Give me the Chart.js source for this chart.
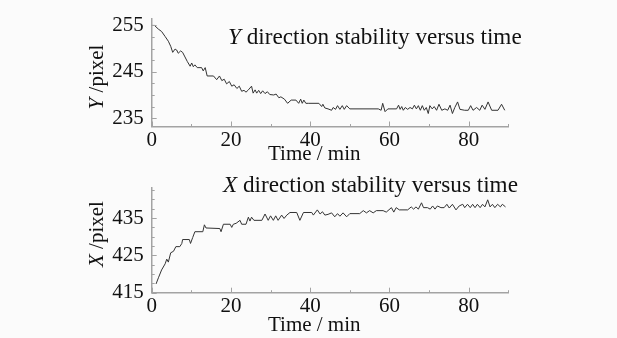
<!DOCTYPE html>
<html>
<head>
<meta charset="utf-8">
<script src="https://cdn.jsdelivr.net/npm/chart.js@4.4.1/dist/chart.umd.min.js"></script>
<style>
  body { margin: 0; background: #fbfbfb; width: 617px; height: 338px; overflow: hidden; position: relative; font-family: "Liberation Serif", serif; color: #111; }
  canvas { position: absolute; left: 0; }
  .title { position: absolute; font-size: 23.2px; line-height: 1; white-space: nowrap; }
  .ytitle { position: absolute; font-size: 21px; line-height: 1; white-space: nowrap; transform: translate(-50%, -50%) rotate(-90deg); }
</style>
</head>
<body>
<canvas id="chartY" width="617" height="169" style="top:0"></canvas>
<canvas id="chartX" width="617" height="169" style="top:169px"></canvas>
<div class="title" style="left:228px; top:24.5px"><i>Y</i> direction stability versus time</div>
<div class="title" style="left:223px; top:172.5px"><i>X</i> direction stability versus time</div>
<div class="ytitle" style="left:96px; top:77px"><i>Y</i> /pixel</div>
<div class="ytitle" style="left:96px; top:234px"><i>X</i> /pixel</div>
<script>
// time axis (min)
const xTicks = [0, 10, 20, 30, 40, 50, 60, 70, 80, 90];
const xLabels = [0, 20, 40, 60, 80];

// Y direction (top panel)
const yTimes = [0, 0.7, 1.7, 2.5, 3.4, 4.2, 4.8, 5.3, 5.9, 6.3, 6.7, 7.3, 7.8, 8.4, 9.0, 9.7, 10.1, 10.5, 10.9, 11.5,
  12.6, 13.0, 13.5, 14.0, 15.6, 16.4, 17.1, 17.7, 18.3, 18.9, 19.6, 20.2, 20.8, 21.5, 22.1, 22.7, 23.3, 23.8, 24.4, 25.2,
  25.6, 26.1, 26.5, 27.0, 27.5, 28.0, 28.6, 29.2, 29.8, 30.8, 31.4, 32.1, 32.6, 33.5, 34.3, 35.2, 36.4, 37.1, 37.6, 38.0,
  38.4, 38.9, 39.5, 42.2, 42.9, 43.2, 43.7, 44.5, 45.4, 45.8, 46.4, 46.9, 47.5, 48.1, 48.6, 49.2, 50.0, 57.2, 57.9, 58.3,
  58.9, 59.6, 61.8, 62.3, 62.7, 63.1, 63.5, 64.0, 64.6, 65.2, 65.8, 66.3, 66.8, 67.3, 67.8, 68.3, 68.8, 69.3, 69.8, 70.2,
  70.8, 71.3, 71.9, 72.5, 73.2, 74.0, 74.7, 75.3, 75.9, 76.5, 77.2, 77.8, 79.0, 79.9, 80.5, 81.1, 82.0, 82.8, 83.4, 84.1,
  84.9, 85.8, 87.4, 88.3, 89.1];
const yPixel = [255.0, 255.0, 254.2, 253.7, 252.6, 251.6, 250.5, 249.2, 249.9, 249.7, 249.0, 249.5, 249.2, 248.2, 247.2, 246.2, 246.9, 246.1, 246.5, 245.9,
  245.9, 245.2, 245.9, 244.1, 244.1, 243.3, 244.1, 243.1, 243.4, 242.4, 242.9, 241.9, 242.2, 241.4, 241.9, 240.8, 241.0, 240.6, 241.1, 241.9,
  240.4, 241.1, 240.4, 241.0, 240.3, 240.9, 240.3, 240.7, 240.1, 240.0, 240.2, 239.4, 239.6, 239.1, 238.2, 238.9, 238.9, 238.2, 239.1, 238.2,
  238.9, 238.2, 238.2, 238.2, 237.5, 238.0, 237.2, 237.0, 236.7, 237.3, 236.9, 237.7, 236.9, 237.7, 236.9, 237.7, 237.0, 237.0, 236.7, 238.2,
  236.4, 237.0, 237.0, 237.8, 236.9, 237.5, 236.7, 237.3, 236.9, 237.3, 237.0, 237.8, 237.0, 237.7, 236.7, 237.7, 236.7, 237.3, 236.0, 237.7,
  237.0, 237.5, 236.7, 238.0, 236.7, 237.0, 236.7, 237.8, 236.0, 237.3, 238.5, 236.9, 236.7, 236.7, 237.7, 236.7, 237.3, 236.7, 237.8, 236.9,
  238.5, 236.7, 236.7, 238.0, 236.7];
const yTicksTop = [235, 237.5, 240, 242.5, 245, 247.5, 250, 252.5, 255];
const yLabelsTop = [235, 245, 255];

// X direction (bottom panel)
const xTimes = [1.1, 1.7, 2.5, 3.4, 3.8, 4.2, 4.8, 5.5, 6.1, 7.1, 7.6, 7.8, 9.5, 9.8, 10.35, 10.9, 12.9, 13.3, 13.7, 17.2,
  17.5, 18.1, 19.8, 20.2, 20.6, 21.3, 22.3, 22.7, 23.8, 24.4, 24.8, 25.2, 25.8, 27.8, 28.6, 29.4, 30.0, 30.7, 31.3, 31.9,
  32.8, 33.4, 34.1, 34.9, 36.6, 37.4, 38.3, 40.4, 40.8, 41.8, 42.5, 43.1, 43.7, 44.5, 45.4, 46.2, 46.9, 47.5, 48.3, 49.2,
  50.0, 52.5, 53.4, 54.2, 55.0, 55.9, 56.7, 58.4, 59.2, 60.5, 61.1, 61.7, 62.5, 64.6, 65.5, 66.1, 66.7, 67.3, 68.1, 68.6,
  69.6, 70.3, 70.9, 71.5, 72.1, 73.0, 73.8, 74.5, 75.1, 75.9, 76.8, 77.6, 78.5, 79.0, 79.7, 80.4, 81.0, 81.6, 82.2, 82.9,
  83.5, 84.1, 84.8, 85.4, 86.0, 86.6, 87.3, 88.0, 88.5, 89.3];
const xPixel = [417.35, 419.0, 421.1, 422.75, 424.0, 423.2, 425.7, 426.1, 427.35, 427.35, 428.2, 429.25, 429.25, 428.2, 429.8, 431.35, 431.35, 433.2, 432.35, 432.2,
  431.35, 433.35, 433.35, 432.5, 433.35, 433.6, 434.4, 433.35, 433.35, 435.25, 434.2, 435.25, 434.4, 434.4, 436.1, 434.4, 435.6, 434.4, 435.6, 434.4,
  435.8, 434.9, 435.8, 436.5, 436.5, 434.4, 436.5, 436.5, 435.8, 437.2, 436.1, 436.7, 435.8, 436.0, 436.4, 435.35, 436.2, 435.5, 436.4, 435.35,
  436.2, 436.2, 437.0, 436.4, 437.0, 436.4, 437.0, 437.0, 436.6, 437.8, 436.6, 437.8, 437.2, 437.2, 438.0, 437.4, 438.0, 437.4, 439.1, 437.8,
  437.8, 437.4, 438.25, 437.4, 438.25, 437.8, 437.8, 438.7, 437.7, 438.7, 437.2, 438.25, 438.7, 437.8, 438.7, 437.8, 438.7, 437.8, 438.7, 437.8,
  438.7, 438.0, 439.9, 438.0, 438.7, 437.8, 438.7, 438.0, 438.7, 438.0];
const yTicksBottom = [415, 417.5, 420, 422.5, 425, 427.5, 430, 432.5, 435, 437.5, 440, 442.5];
const yLabelsBottom = [415, 425, 435];

const axisColor = '#a3a3a3';
const tickFont = { family: 'Liberation Serif', size: 21, lineHeight: 1 };

// short tick marks pointing into the plot area
const inwardTicks = {
  id: 'inwardTicks',
  afterDraw(chart, args, opts) {
    const { ctx, chartArea } = chart;
    const xs = chart.scales.x, ys = chart.scales.y;
    ctx.save();
    ctx.strokeStyle = axisColor;
    ctx.lineWidth = 1;
    ctx.beginPath();
    xs.ticks.forEach(t => {
      const px = Math.round(xs.getPixelForValue(t.value)) + 0.5;
      const len = xLabels.includes(t.value) ? 5 : 2.5;
      ctx.moveTo(px, chartArea.bottom);
      ctx.lineTo(px, chartArea.bottom - len);
    });
    ys.ticks.forEach(t => {
      const py = Math.round(ys.getPixelForValue(t.value)) + 0.5;
      const len = opts.labels.includes(t.value) ? 5 : 3;
      ctx.moveTo(chartArea.left, py);
      ctx.lineTo(chartArea.left + len, py);
    });
    ctx.stroke();
    ctx.restore();
  }
};

function makeChart(id, times, values, yMin, yMax, yTicks, yLabels, areaTop, xAxisHeight, titlePad) {
  return new Chart(document.getElementById(id), {
    type: 'line',
    data: {
      datasets: [{
        data: times.map((t, i) => ({ x: t, y: values[i] })),
        borderColor: '#333',
        borderWidth: 1,
        pointRadius: 0,
        fill: false,
        tension: 0
      }]
    },
    options: {
      responsive: false,
      animation: false,
      devicePixelRatio: 1,
      layout: { padding: { top: areaTop, right: 108.7, left: 0, bottom: 0 } },
      plugins: {
        legend: { display: false },
        tooltip: { enabled: false },
        inwardTicks: { labels: yLabels }
      },
      scales: {
        x: {
          type: 'linear',
          min: 0,
          max: 90,
          afterBuildTicks: s => { s.ticks = xTicks.map(v => ({ value: v })); },
          afterFit: s => { s.height = xAxisHeight; },
          grid: { display: true, drawOnChartArea: false, drawTicks: false },
          border: { display: true, color: axisColor, width: 1.5 },
          ticks: {
            autoSkip: false,
            maxRotation: 0,
            padding: 3,
            color: '#111',
            font: tickFont,
            callback: v => xLabels.includes(v) ? String(v) : ''
          },
          title: {
            display: true,
            text: 'Time / min      ',
            color: '#111',
            font: tickFont,
            padding: { top: 0, bottom: titlePad }
          }
        },
        y: {
          min: yMin,
          max: yMax,
          afterBuildTicks: s => { s.ticks = yTicks.map(v => ({ value: v })); },
          afterFit: s => { s.width = 151.7; },
          grid: { display: true, drawOnChartArea: false, drawTicks: false },
          border: { display: true, color: axisColor, width: 1.5 },
          ticks: {
            autoSkip: false,
            padding: 8,
            color: '#111',
            font: tickFont,
            callback: v => yLabels.includes(v) ? String(v) : ''
          }
        }
      }
    },
    plugins: [inwardTicks]
  });
}

makeChart('chartY', yTimes, yPixel, 233.2, 256.5, yTicksTop, yLabelsTop, 11.7, 42.5, 4.5);
makeChart('chartX', xTimes, xPixel, 415, 443.2, yTicksBottom, yLabelsBottom, 11, 45.3, 2);
</script>
</body>
</html>
